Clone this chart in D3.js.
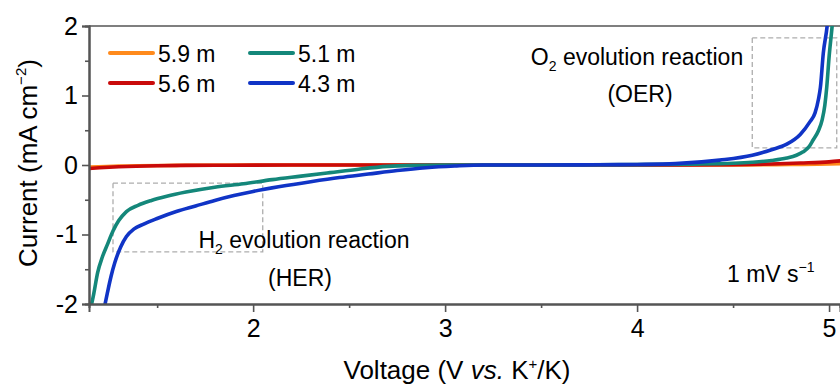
<!DOCTYPE html>
<html>
<head>
<meta charset="utf-8">
<script src="https://cdn.jsdelivr.net/npm/d3@7"></script>
<style>
  html, body { margin: 0; padding: 0; background: #fff; }
  svg { display: block; font-family: "Liberation Sans", Arial, sans-serif; }
</style>
</head>
<body>
<svg id="chart" width="840" height="388"></svg>
<script>
// LSV curves of K electrolytes at different concentrations (1 mV/s)
const seriesNames = ["5.9 m", "5.6 m", "5.1 m", "4.3 m"];
const seriesColors = ["#ff8a1c", "#c90a0a", "#14877a", "#1034c6"];

const v59 = [1.145, 1.3, 1.6, 2.0, 3.0, 4.0, 4.5, 4.8, 5.0, 5.06];
const i59 = [-0.03, -0.015, -0.005, 0, 0, 0, 0, 0.008, 0.015, 0.02];

const v56 = [1.145, 1.2, 1.3, 1.5, 1.8, 2.2, 3.0, 4.2, 4.5, 4.7, 4.85, 5.0, 5.06];
const i56 = [-0.05, -0.04, -0.025, -0.01, -0.004, 0, 0, 0, 0.005, 0.015, 0.028, 0.045, 0.06];

const v51 = [1.155, 1.17, 1.19, 1.215, 1.24, 1.27, 1.30, 1.34, 1.40, 1.47, 1.55, 1.65, 1.80, 1.95,
             2.10, 2.25, 2.40, 2.55, 2.70, 2.85, 3.00, 3.5, 4.0, 4.3, 4.5, 4.60, 4.70, 4.78,
             4.83, 4.865, 4.895, 4.917, 4.944, 4.964, 4.978, 4.988, 5.0, 5.016, 5.025];
const i51 = [-2.05, -1.85, -1.55, -1.32, -1.15, -0.95, -0.80, -0.67, -0.58, -0.51, -0.45, -0.39, -0.32, -0.27,
             -0.21, -0.16, -0.11, -0.06, -0.02, -0.005, 0, 0, 0.005, 0.012, 0.025, 0.04, 0.065, 0.10,
             0.14, 0.19, 0.26, 0.36, 0.49, 0.65, 0.86, 1.12, 1.55, 2.0, 2.3];

const v43 = [1.225, 1.24, 1.26, 1.28, 1.31, 1.34, 1.38, 1.43, 1.50, 1.60, 1.70, 1.80, 1.90, 2.00,
             2.14, 2.30, 2.45, 2.60, 2.75, 2.90, 3.05, 3.2, 3.5, 3.8, 4.0, 4.2, 4.43, 4.60, 4.70,
             4.78, 4.85, 4.90, 4.927, 4.945, 4.955, 4.97, 4.99, 5.0];
const i43 = [-2.05, -1.85, -1.60, -1.40, -1.18, -1.03, -0.92, -0.85, -0.77, -0.67, -0.59, -0.51, -0.44, -0.38,
             -0.31, -0.24, -0.18, -0.13, -0.08, -0.04, -0.015, 0, 0, 0.003, 0.008, 0.02, 0.07, 0.14, 0.22,
             0.30, 0.44, 0.62, 0.75, 0.95, 1.12, 1.61, 2.0, 2.3];

const seriesV = [v59, v56, v51, v43];
const seriesI = [i59, i56, i51, i43];

const xMajor = [2, 3, 4, 5];
const xMinor = [1.5, 2.5, 3.5, 4.5];
const yMajor = [-2, -1, 0, 1, 2];
const yMinor = [-1.5, -0.5, 0.5, 1.5];

// dashed boxes marking the HER and OER regions: [v0, v1, i0, i1]
const herBox = [1.27, 2.05, -0.26, -1.25];
const oerBox = [4.60, 5.04, 1.83, 0.245];

const svg = d3.select("#chart");
const padL = 89, padR = 840, padT = 26, padB = 304;

const x = d3.scaleLinear().domain([1.145, 5.057]).range([padL, padR]);
const y = d3.scaleLinear().domain([-2, 2]).range([padB, padT]);

svg.append("defs").append("clipPath").attr("id", "plotclip")
  .append("rect").attr("x", padL).attr("y", padT).attr("width", padR - padL + 2).attr("height", padB - padT);

const axisColor = "#555";

// top frame line
svg.append("line").attr("x1", padL).attr("x2", padR + 2).attr("y1", padT).attr("y2", padT)
  .attr("stroke", axisColor).attr("stroke-width", 1.6);

// dashed region boxes
[herBox, oerBox].forEach(b => {
  svg.append("rect")
    .attr("x", x(b[0])).attr("y", y(b[2]))
    .attr("width", x(b[1]) - x(b[0])).attr("height", y(b[3]) - y(b[2]))
    .attr("fill", "none").attr("stroke", "#adadad").attr("stroke-width", 1.3)
    .attr("stroke-dasharray", "5,3");
});

// curves
const line = d3.line().x(d => x(d[0])).y(d => y(d[1])).curve(d3.curveMonotoneX);
const gLines = svg.append("g").attr("clip-path", "url(#plotclip)");
seriesNames.forEach((name, k) => {
  const pts = seriesV[k].map((v, j) => [v, seriesI[k][j]]);
  gLines.append("path").datum(pts)
    .attr("d", line)
    .attr("fill", "none")
    .attr("stroke", seriesColors[k])
    .attr("stroke-width", 3.6)
    .attr("stroke-linejoin", "round")
    .attr("stroke-linecap", "round");
});

// axes
function styleAxis(g) {
  g.select(".domain").attr("stroke", axisColor).attr("stroke-width", 2);
  g.selectAll(".tick line").attr("stroke", axisColor).attr("stroke-width", 1.6);
  g.selectAll("text").attr("fill", "#000").style("font-size", "25px")
    .style("font-family", "'Liberation Sans', Arial, sans-serif");
}

const xAxis = svg.append("g").attr("transform", `translate(0,${padB})`)
  .call(d3.axisBottom(x).tickValues(xMajor).tickSize(8).tickPadding(5).tickFormat(d => String(d)));
styleAxis(xAxis);
xAxis.selectAll("text").attr("dy", "0.78em");
const xAxisMinor = svg.append("g").attr("transform", `translate(0,${padB})`)
  .call(d3.axisBottom(x).tickValues(xMinor).tickSize(4).tickFormat(""));
styleAxis(xAxisMinor);

const yAxis = svg.append("g").attr("transform", `translate(${padL},0)`)
  .call(d3.axisLeft(y).tickValues(yMajor).tickSize(7).tickPadding(4).tickFormat(d => String(d)));
styleAxis(yAxis);
const yAxisMinor = svg.append("g").attr("transform", `translate(${padL},0)`)
  .call(d3.axisLeft(y).tickValues(yMinor).tickSize(4).tickFormat(""));
styleAxis(yAxisMinor);

// axis titles
const xt = svg.append("text").attr("x", 457).attr("y", 379).attr("text-anchor", "middle")
  .style("font-size", "26px").attr("fill", "#000");
xt.append("tspan").text("Voltage (V ");
xt.append("tspan").text("vs.").style("font-style", "italic");
xt.append("tspan").text(" K");
xt.append("tspan").text("+").style("font-size", "15px").attr("dy", -10);
xt.append("tspan").text("/K)").attr("dy", 10);

const yt = svg.append("text").attr("transform", "translate(37,163) rotate(-90)")
  .attr("text-anchor", "middle").style("font-size", "26px").attr("fill", "#000");
yt.append("tspan").text("Current (mA cm");
yt.append("tspan").text("\u22122").style("font-size", "15px").attr("dy", -11);
yt.append("tspan").text(")").attr("dy", 11);

// legend
const legendPos = [[110, 53], [110, 83], [250, 53], [250, 83]];
seriesNames.forEach((name, k) => {
  const [lx, ly] = legendPos[k];
  svg.append("line").attr("x1", lx).attr("x2", lx + 43).attr("y1", ly).attr("y2", ly)
    .attr("stroke", seriesColors[k]).attr("stroke-width", 4).attr("stroke-linecap", "round");
  svg.append("text").attr("x", lx + 48).attr("y", ly + 8.5).text(name)
    .style("font-size", "23px").attr("fill", "#000");
});

// region annotations
function subLabel(cx, cy, a, sub, b) {
  const t = svg.append("text").attr("x", cx).attr("y", cy).attr("text-anchor", "middle")
    .style("font-size", "23px").attr("fill", "#000");
  t.append("tspan").text(a);
  t.append("tspan").text(sub).style("font-size", "14px").attr("dy", 6);
  t.append("tspan").text(b).attr("dy", -6);
}
subLabel(637, 65, "O", "2", " evolution reaction");
svg.append("text").attr("x", 640).attr("y", 102).attr("text-anchor", "middle")
  .style("font-size", "23px").attr("fill", "#000").text("(OER)");
subLabel(304, 248, "H", "2", " evolution reaction");
svg.append("text").attr("x", 300).attr("y", 286).attr("text-anchor", "middle")
  .style("font-size", "23px").attr("fill", "#000").text("(HER)");

// scan rate
const sr = svg.append("text").attr("x", 727).attr("y", 282).style("font-size", "23px").attr("fill", "#000");
sr.append("tspan").text("1 mV s");
sr.append("tspan").text("\u22121").style("font-size", "14px").attr("dy", -10);
</script>
</body>
</html>
